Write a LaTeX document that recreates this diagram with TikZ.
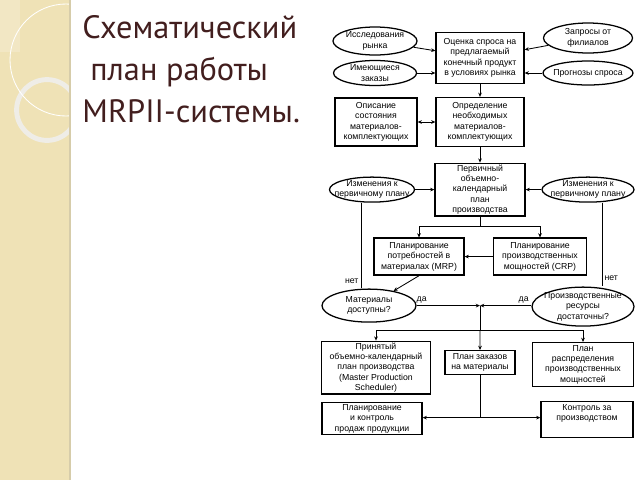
\documentclass[tikz,border=0pt]{standalone}
\usepackage{fontspec}
\setmainfont{Liberation Sans}
\newfontfamily\titlefont{PT Sans}
\usetikzlibrary{shapes.geometric, arrows.meta}
\definecolor{stripbeige}{RGB}{239,226,182}
\definecolor{stripedge}{RGB}{214,204,170}
\definecolor{titlebrown}{RGB}{66,30,30}
\tikzset{
    box/.style = {draw, line width = 0.9pt, align = center, inner sep = 1pt, font = \fontsize{6.2}{7.4}\selectfont},
    oval/.style = {draw, ellipse, line width = 0.9pt, align = center, inner xsep = -6pt, inner ysep = -1pt, font = \fontsize{6.2}{7.4}\selectfont},
    lbl/.style = {font = \fontsize{6.2}{7.4}\selectfont, inner sep = 1.5pt}
}
\begin{document}
\begin{tikzpicture}[
    node distance = 1cm,
    line width = 0.6pt,
    >={Stealth[length = 3pt, width = 2.6pt]}
]
% background and strip
\useasboundingbox (0,0) rectangle (16,-12);
\fill[white] (0,0) rectangle (16,-12);
\fill[stripbeige] (0,0) rectangle (1.75,-12);
\begin{scope}
\clip (0,0) rectangle (1.75,-12);
\fill[white, opacity = 0.2] (0,0) rectangle (0.5,-1.3);
\draw[white!88!gray, line width = 3.5pt, opacity = 0.85] (1.175,-2.75) circle (0.76);
\draw[white, line width = 0.6pt] (1.65,-1.5) circle (1.4);
\end{scope}
\draw[stripedge, line width = 1.5pt] (1.75,0) -- (1.75,-12);
% title
\node[anchor = base west, align = left, text = titlebrown, font = \titlefont\fontsize{23}{29.8}\selectfont, inner sep = 0pt] (title) at (2.05,-3.05) {Схематический\\\hspace*{0.2cm}план работы\\MRPII-системы.};
% nodes
\node[box, minimum width = 2.2cm, minimum height = 1.275cm] (est) at (12,-1.45) {Оценка спроса на\\предлагаемый\\конечный продукт\\в условиях рынка};
\node[oval, minimum width = 2.1cm, minimum height = 0.7cm] (res) [left of = est, xshift = -1.625cm, yshift = 0.425cm] {Исследования\\рынка};
\node[oval, minimum width = 2.075cm, minimum height = 0.625cm] (ord) [left of = est, xshift = -1.625cm, yshift = -0.375cm] {Имеющиеся\\заказы};
\node[oval, minimum width = 2.225cm, minimum height = 0.75cm] (req) [right of = est, xshift = 1.7cm, yshift = 0.5cm] {Запросы от\\филиалов};
\node[oval, minimum width = 2.25cm, minimum height = 0.6cm] (fcst) [right of = est, xshift = 1.7cm, yshift = -0.375cm] {Прогнозы спроса};
\node[box, minimum width = 2.2cm, minimum height = 1.225cm] (need) [below of = est, yshift = -0.6cm] {Определение\\необходимых\\материалов-\\комплектующих};
\node[box, minimum width = 2.05cm, minimum height = 1.2cm] (descr) [left of = need, xshift = -1.6cm] {Описание\\состояния\\материалов-\\комплектующих};
\node[box, minimum width = 2.25cm, minimum height = 1.275cm] (plan) [below of = need, yshift = -0.69cm] {Первичный\\объемно-\\календарный\\план\\производства};
\node[oval, minimum width = 2.125cm, minimum height = 0.625cm] (chgL) [left of = plan, xshift = -1.7cm] {Изменения к\\первичному плану};
\node[oval, minimum width = 2.3cm, minimum height = 0.625cm] (chgR) [right of = plan, xshift = 1.7cm] {Изменения к\\первичному плану};
\node[box, minimum width = 2.25cm, minimum height = 0.925cm] (mrp) [below of = plan, xshift = -1.525cm, yshift = -0.675cm] {Планирование\\потребностей в\\материалах (MRP)};
\node[box, minimum width = 2.325cm, minimum height = 0.925cm] (crp) [below of = plan, xshift = 1.5cm, yshift = -0.675cm] {Планирование\\производственных\\мощностей (CRP)};
\node[oval, minimum width = 2.35cm, minimum height = 0.825cm] (matq) [below of = mrp, xshift = -1.25cm, yshift = -0.225cm] {Материалы\\доступны?};
\node[oval, minimum width = 2.55cm, minimum height = 0.975cm] (resq) [below of = crp, xshift = 1.075cm, yshift = -0.25cm] {Производственные\\ресурсы\\достаточны?};
\node[box, minimum width = 2.725cm, minimum height = 1.275cm] (mps) [below of = matq, xshift = 0.175cm, yshift = -0.55cm] {Принятый\\объемно-календарный\\план производства\\(Master Production\\Scheduler)};
\node[box, minimum width = 1.75cm, minimum height = 0.6cm] (ordp) [right of = mps, xshift = 1.6cm, yshift = 0.125cm] {План заказов\\на материалы};
\node[box, minimum width = 2.525cm, minimum height = 1.1cm] (capp) [below of = resq, yshift = -0.45cm] {План\\распределения\\производственных\\мощностей};
\node[box, minimum width = 2.5cm, minimum height = 0.8cm] (sales) [below of = mps, xshift = -0.1cm, yshift = -0.275cm] {Планирование\\и контроль\\продаж продукции};
\node[box, minimum width = 2.3cm, minimum height = 0.9cm, text depth = 0.35cm] (ctrl) [below of = capp, xshift = 0.1cm, yshift = -0.375cm] {Контроль за\\производством};
% arrows
\draw[->] (res) -- (est);
\draw[->] (ord) -- (ord -| est.west);
\draw[->] (req) -- (est);
\draw[->] (fcst) -- (fcst -| est.east);
\draw[->] (est) -- (need);
\draw[<->] (descr) -- (need);
\draw[->] (need) -- (plan);
\draw[->] (chgL) -- (chgL -| plan.west);
\draw[->] (chgR) -- (chgR -| plan.east);
\coordinate (split1) at ([yshift = -0.25cm]plan.south);
\draw (plan) -- (split1);
\draw[->] (split1) -| (mrp);
\draw[->] (split1) -| (crp);
\draw[->] (crp) -- (mrp);
\draw[->] (mrp.south) -- (matq);
\draw ([xshift = -0.275cm]chgL.south) -- node[lbl, pos = 0.92, left] {нет} ([xshift = -0.275cm]chgL.south |- matq.north);
\draw ([xshift = 0.35cm]chgR.south) -- node[lbl, pos = 0.9, right] {нет} ([xshift = 0.35cm]chgR.south |- resq.north);
% yes branch
\coordinate (yes) at (matq.east -| plan.south);
\draw[->] (matq) -- node[lbl, pos = 0.08, above] {да} (yes);
\draw[->] (yes -| resq.west) -- node[lbl, pos = 0.15, above] {да} (yes);
\coordinate (split2) at ([yshift = -0.625cm]yes);
\draw (yes) -- (split2);
\draw[->] (split2) -| (mps);
\draw[->] (split2) -| (capp);
\draw[->] (split2) -- (ordp);
\coordinate (split3) at ([yshift = -1.06cm]ordp.south);
\draw (ordp) -- (split3);
\draw[->] (split3) -- (split3 -| sales.east);
\draw[->] (split3) -- (split3 -| ctrl.west);
\end{tikzpicture}
\end{document}
